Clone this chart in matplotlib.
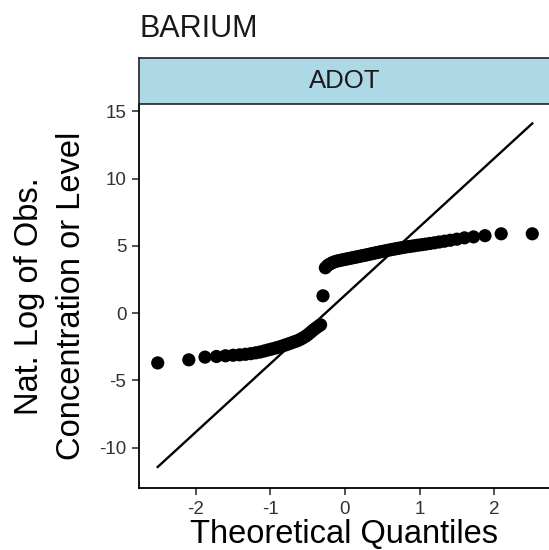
import numpy as np
import matplotlib
matplotlib.use("Agg")
import matplotlib.pyplot as plt
from statistics import NormalDist

plt.rcParams['font.family'] = ['Liberation Sans', 'DejaVu Sans']

title = "BARIUM"
panel = "ADOT"
xlabel = "Theoretical Quantiles"
ylabel = "Nat. Log of Obs.\nConcentration or Level"
xticks = [-2, -1, 0, 1, 2]
yticks = [-10, -5, 0, 5, 10, 15]

# sorted observed values (natural log)
lower_vals = [-3.70, -3.47, -3.27, -3.22, -3.17, -3.13, -3.10, -3.06, -3.01, -2.95,
              -2.89, -2.81, -2.73, -2.66, -2.59, -2.52, -2.44, -2.36, -2.28, -2.20,
              -2.12, -2.05, -1.95, -1.84, -1.72, -1.58, -1.42, -1.26, -1.12, -0.99,
              -0.87]
middle_vals = [1.29]
upper_vals = [3.37, 3.55, 3.66, 3.75, 3.82, 3.87, 3.91, 3.95, 3.98, 4.02,
              4.05, 4.09, 4.12, 4.16, 4.19, 4.23, 4.27, 4.30, 4.34, 4.38,
              4.42, 4.46, 4.50, 4.54, 4.58, 4.62, 4.66, 4.70, 4.74, 4.78,
              4.82, 4.86, 4.90, 4.94, 4.97, 5.01, 5.05, 5.09, 5.13, 5.18,
              5.23, 5.29, 5.35, 5.42, 5.50, 5.60, 5.67, 5.76, 5.90, 5.90]
y_limits = (-13.0, 15.55)

sample = np.array(lower_vals + middle_vals + upper_vals)
n = len(sample)
nd = NormalDist()
theo = np.array([nd.inv_cdf((i - 0.5) / n) for i in range(1, n + 1)])

# qq line through quartiles
q1, q3 = np.quantile(sample, [0.25, 0.75])
t1, t3 = nd.inv_cdf(0.25), nd.inv_cdf(0.75)
slope = (q3 - q1) / (t3 - t1)
intercept = q1 - slope * t1
lx = np.array([theo.min(), theo.max()])
ly = intercept + slope * lx

W, H = 549, 550
fig = plt.figure(figsize=(W / 100, H / 100), dpi=100)

ax_l, ax_b, ax_r, ax_t = 139, 488, 551, 104
ax = fig.add_axes([ax_l / W, 1 - ax_b / H, (ax_r - ax_l) / W, (ax_b - ax_t) / H])
ax.plot(lx, ly, color='black', lw=1.7, zorder=2)
ax.scatter(theo, sample, s=90, color='black', edgecolors='none', zorder=3)

xr = lx.max() - lx.min()
ax.set_xlim(lx.min() - 0.05 * xr, lx.max() + 0.05 * xr)
ax.set_ylim(*y_limits)

ax.set_xticks(xticks)
ax.set_yticks(yticks)
ax.set_xticklabels([str(v) for v in xticks])
ax.set_yticklabels([str(v) for v in yticks])
ax.tick_params(axis='both', length=5, width=1.2, color='#333333',
               labelsize=13.5, labelcolor='#333333')
ax.tick_params(axis='x', pad=4.5)
ax.tick_params(axis='y', pad=4)
for s in ['top', 'right']:
    ax.spines[s].set_visible(False)
for s in ['left', 'bottom']:
    ax.spines[s].set_linewidth(1.3)
    ax.spines[s].set_color('black')

ax.set_xlabel(xlabel, fontsize=23.5, color='black')
ax.xaxis.label.set_va('baseline')
ax.xaxis.set_label_coords((344.5 - ax_l) / (ax_r - ax_l), (ax_b - 543) / (ax_b - ax_t))
ax.set_ylabel(ylabel, fontsize=23.5, color='black', linespacing=1.45, labelpad=9)

# facet strip
st_top = 58
sax = fig.add_axes([ax_l / W, 1 - ax_t / H, (ax_r - ax_l) / W, (ax_t - st_top) / H])
sax.set_facecolor('#ADD8E6')
sax.set_xticks([])
sax.set_yticks([])
for s in sax.spines.values():
    s.set_color('#222222')
    s.set_linewidth(1.2)
sax.text((344.5 - ax_l) / (ax_r - ax_l), 0.5, panel,
         transform=sax.transAxes, ha='center', va='center', fontsize=18.5,
         color='#1a1a1a')

fig.text(140 / W, 1 - 37 / H, title, fontsize=22, ha='left', va='baseline',
         color='#1a1a1a')

fig.savefig("out.png", dpi=100)
